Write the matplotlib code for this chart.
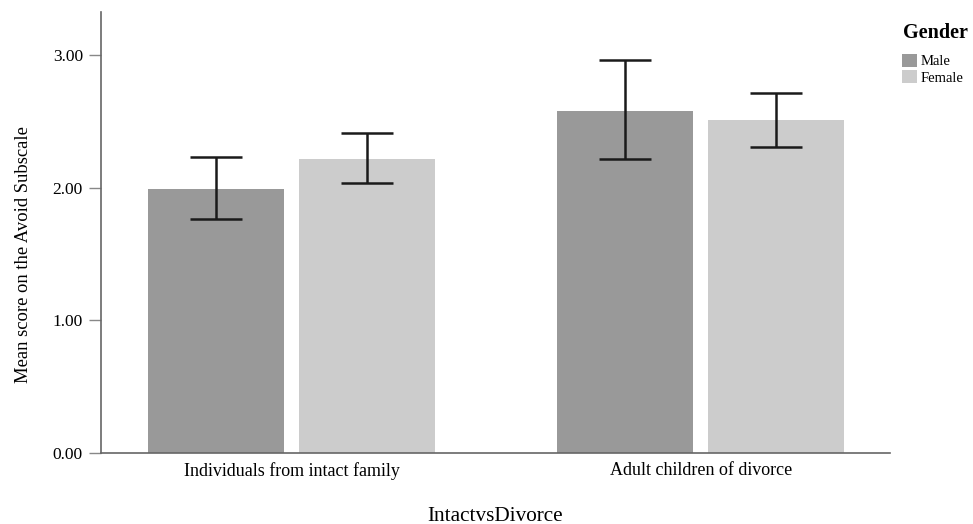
import matplotlib
matplotlib.use("Agg")
import matplotlib.pyplot as plt
import numpy as np
from matplotlib.patches import Patch

categories = ["Individuals from intact family", "Adult children of divorce"]
genders = ["Male", "Female"]
means = {"Male": [1.99, 2.58], "Female": [2.215, 2.507]}
err_low = {"Male": [1.761, 2.213], "Female": [2.034, 2.308]}
err_high = {"Male": [2.228, 2.961], "Female": [2.409, 2.713]}
colors = {"Male": "#999999", "Female": "#cccccc"}
yticks = [0.0, 1.0, 2.0, 3.0]
yticklabels = ["0.00", "1.00", "2.00", "3.00"]

plt.rcParams['font.family'] = ['Liberation Serif', 'DejaVu Serif']

fig = plt.figure(figsize=(9.73, 5.24), dpi=100)
ax = fig.add_axes([0.1038, 0.136, 0.8109, 0.8417])

x = np.arange(len(categories))
width = 0.332
offsets = {"Male": -0.1846, "Female": 0.1846}
for g in genders:
    pos = x + offsets[g]
    m = np.array(means[g])
    lo = m - np.array(err_low[g])
    hi = np.array(err_high[g]) - m
    ax.bar(pos, m, width=width, color=colors[g], edgecolor='none', zorder=2)
    ax.errorbar(pos, m, yerr=[lo, hi], fmt='none', ecolor='#1a1a1a',
                elinewidth=1.8, capsize=19, capthick=1.8, zorder=3)

ax.set_xlim(-0.466, 1.463)
ax.set_ylim(0, 3.326)
ax.set_xticks(x)
ax.set_xticklabels(categories, fontsize=13)
ax.set_yticks(yticks)
ax.set_yticklabels(yticklabels, fontsize=12.5)
ax.tick_params(axis='x', length=0, pad=7)
ax.tick_params(axis='y', length=9, width=1, color='#888888', pad=4)
for s in ['top', 'right']:
    ax.spines[s].set_visible(False)
for s in ['left', 'bottom']:
    ax.spines[s].set_color('#666666')
    ax.spines[s].set_linewidth(1.2)

ax.set_ylabel("Mean score on the Avoid Subscale", fontsize=13.4)
ax.yaxis.set_label_coords(-0.0875, 0.45)
ax.set_xlabel("IntactvsDivorce", fontsize=15.3, labelpad=19)

fig.text(903 / 973, 1 - 38 / 524, "Gender", fontsize=14.5, fontweight='bold',
         ha='left', va='baseline')
handles = [Patch(facecolor=colors[g], edgecolor='none', label=g) for g in genders]
leg = fig.legend(handles=handles, loc='upper left', bbox_to_anchor=(902 / 973, 1 - 54 / 524),
                 frameon=False, fontsize=10.5,
                 handlelength=1.0, handleheight=0.95, handletextpad=0.25,
                 labelspacing=0.15, borderpad=0, borderaxespad=0)

fig.savefig("out.png", dpi=100)
